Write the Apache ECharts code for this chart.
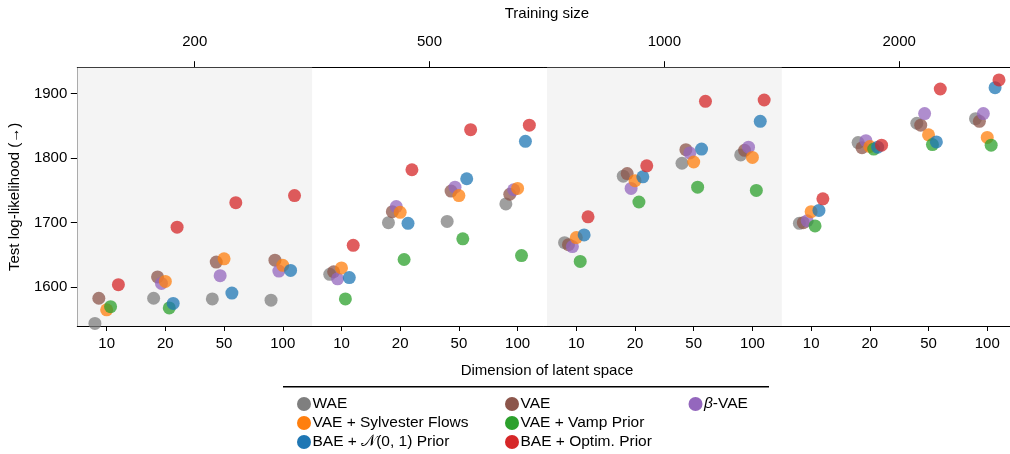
<!DOCTYPE html>
<html>
<head>
<meta charset="utf-8">
<script src="https://cdn.jsdelivr.net/npm/echarts@6/dist/echarts.min.js"></script>
<style>
  html, body { margin: 0; padding: 0; background: #fff; }
  #chart { width: 1010px; height: 454px; }
</style>
</head>
<body>
<div id="chart"></div>
<script>
// 축 라벨
var trainSizes = ['200', '500', '1000', '2000'];
var latentDims = ['10', '20', '50', '100'];

// 시리즈 이름 / 색상 (matplotlib tab10)
var seriesNames = ['WAE', 'VAE', 'β-VAE', 'VAE + Sylvester Flows', 'VAE + Vamp Prior', 'BAE + 𝒩(0, 1) Prior', 'BAE + Optim. Prior'];
var seriesColors = ['#7f7f7f', '#8c564b', '#9467bd', '#ff7f0e', '#2ca02c', '#1f77b4', '#d62728'];

// 값: 학습 크기(200,500,1000,2000) x 잠재 차원(10,20,50,100) 순서
var wae       = [1544, 1583, 1582, 1580, 1620, 1700, 1702, 1729, 1669, 1772, 1792, 1805, 1699, 1824, 1854, 1861];
var vae       = [1583, 1616, 1639, 1642, 1624, 1717, 1749, 1744, 1666, 1776, 1813, 1812, 1700, 1816, 1851, 1857];
var betaVae   = [null, 1606, 1618, 1625, 1613, 1725, 1755, 1751, 1663, 1753, 1808, 1817, 1703, 1827, 1869, 1869];
var sylvester = [1565, 1609, 1644, 1634, 1630, 1716, 1742, 1753, 1677, 1765, 1794, 1801, 1717, 1818, 1836, 1832];
var vamp      = [1570, 1568, null, null, 1582, 1643, 1675, 1649, 1640, 1732, 1755, 1750, 1695, 1814, 1821, 1820];
var baeNormal = [null, 1575, 1591, 1626, 1615, 1699, 1768, 1826, 1681, 1771, 1814, 1857, 1719, 1817, 1825, 1909];
var baeOptim  = [1604, 1693, 1731, 1742, 1665, 1782, 1844, 1851, 1709, 1788, 1888, 1890, 1737, 1820, 1907, 1921];

var allValues = [wae, vae, betaVae, sylvester, vamp, baeNormal, baeOptim];
var yTicks = [1600, 1700, 1800, 1900];

var FONT = "'Liberation Sans', Arial, Helvetica, sans-serif";
var FS = 15;
var dodge = 0.2 / 3; // 시리즈별 가로 이동 폭

var myChart = echarts.init(document.getElementById('chart'));

var nSlots = trainSizes.length * latentDims.length;
var slotIdx = [];
for (var i = 0; i < nSlots; i++) slotIdx.push(i);
var groupCenters = trainSizes.map(function (t, g) { return g * latentDims.length + (latentDims.length - 1) / 2; });

var series = [{
    // 배경 음영
    type: 'scatter',
    data: [],
    z: 1,
    silent: true,
    markArea: {
        silent: true,
        itemStyle: { color: '#f4f4f4' },
        data: [
            [{ xAxis: -0.5 }, { xAxis: 3.5 }],
            [{ xAxis: 7.5 }, { xAxis: 11.5 }]
        ]
    }
}];

allValues.forEach(function (vals, s) {
    var off = (s - 3) * dodge;
    var pts = [];
    vals.forEach(function (v, i) {
        if (v !== null) pts.push([i + off, v]);
    });
    series.push({
        name: seriesNames[s],
        type: 'scatter',
        symbol: 'circle',
        symbolSize: 13,
        z: 2 + s,
        itemStyle: { color: seriesColors[s], opacity: 0.75 },
        data: pts
    });
});

var option = {
    animation: false,
    backgroundColor: '#fff',
    textStyle: { fontFamily: FONT },
    grid: { left: 77.3, top: 67.7, width: 939.3, height: 258.3, containLabel: false, outerBoundsMode: 'none' },
    xAxis: [{
        type: 'value',
        position: 'bottom',
        min: -0.5,
        max: 15.5,
        name: 'Dimension of latent space',
        nameLocation: 'middle',
        nameGap: 37,
        nameTextStyle: { fontSize: FS, color: '#000', fontFamily: FONT },
        axisLine: { show: true, onZero: false, lineStyle: { color: '#000', width: 1 } },
        axisTick: { show: true, length: 5, customValues: slotIdx, lineStyle: { color: '#000' } },
        axisLabel: {
            customValues: slotIdx,
            margin: 10,
            fontSize: FS,
            color: '#000',
            fontFamily: FONT,
            formatter: function (v) { return latentDims[Math.round(v) % latentDims.length]; }
        },
        splitLine: { show: false }
    }, {
        type: 'value',
        position: 'top',
        min: -0.5,
        max: 15.5,
        name: 'Training size',
        nameLocation: 'middle',
        nameGap: 46,
        nameTextStyle: { fontSize: FS, color: '#000', fontFamily: FONT },
        axisLine: { show: true, onZero: false, lineStyle: { color: '#000', width: 1 } },
        axisTick: { show: true, length: 6.5, customValues: groupCenters, lineStyle: { color: '#000' } },
        axisLabel: {
            customValues: groupCenters,
            margin: 18,
            fontSize: FS,
            color: '#000',
            fontFamily: FONT,
            formatter: function (v) { return trainSizes[Math.round((v - 1.5) / latentDims.length)]; }
        },
        splitLine: { show: false }
    }],
    yAxis: [{
        type: 'value',
        min: 1540,
        max: 1940,
        name: 'Test log-likelihood (→)',
        nameLocation: 'middle',
        nameGap: 55,
        nameRotate: 90,
        nameTextStyle: { fontSize: FS, color: '#000', fontFamily: FONT },
        axisLine: { show: true, onZero: false, lineStyle: { color: '#000', width: 1 } },
        axisTick: { show: true, length: 6.5, customValues: yTicks, lineStyle: { color: '#000' } },
        axisLabel: {
            customValues: yTicks, margin: 10, fontSize: FS, color: '#000', fontFamily: FONT,
            formatter: function (v) { return String(v); }
        },
        splitLine: { show: false }
    }],
    legend: [
        legendCol([seriesNames[0], seriesNames[3], seriesNames[5]], 297),
        legendCol([seriesNames[1], seriesNames[4], seriesNames[6]], 505),
        legendCol([seriesNames[2]], 688.5)
    ],
    graphic: [{
        type: 'line',
        shape: { x1: 283, y1: 386.7, x2: 769, y2: 386.7 },
        style: { stroke: '#000', lineWidth: 1.5 }
    }],
    series: series
};

function legendCol(names, left) {
    return {
        data: names,
        orient: 'vertical',
        left: left,
        top: 396,
        padding: 0,
        itemWidth: 14,
        itemHeight: 14,
        itemGap: 3,
        icon: 'circle',
        selectedMode: false,
        itemStyle: { opacity: 1 },
        textStyle: {
            fontSize: 15.5,
            lineHeight: 14,
            padding: [0, 0, 0, -3.5],
            color: '#000',
            fontFamily: FONT,
            rich: { i: { fontStyle: 'italic', fontSize: 15.5, lineHeight: 14, fontFamily: FONT } }
        },
        formatter: function (name) {
            return name === 'β-VAE' ? '{i|β}-VAE' : name;
        }
    };
}

myChart.setOption(option);
window.addEventListener('resize', myChart.resize);
</script>
</body>
</html>
